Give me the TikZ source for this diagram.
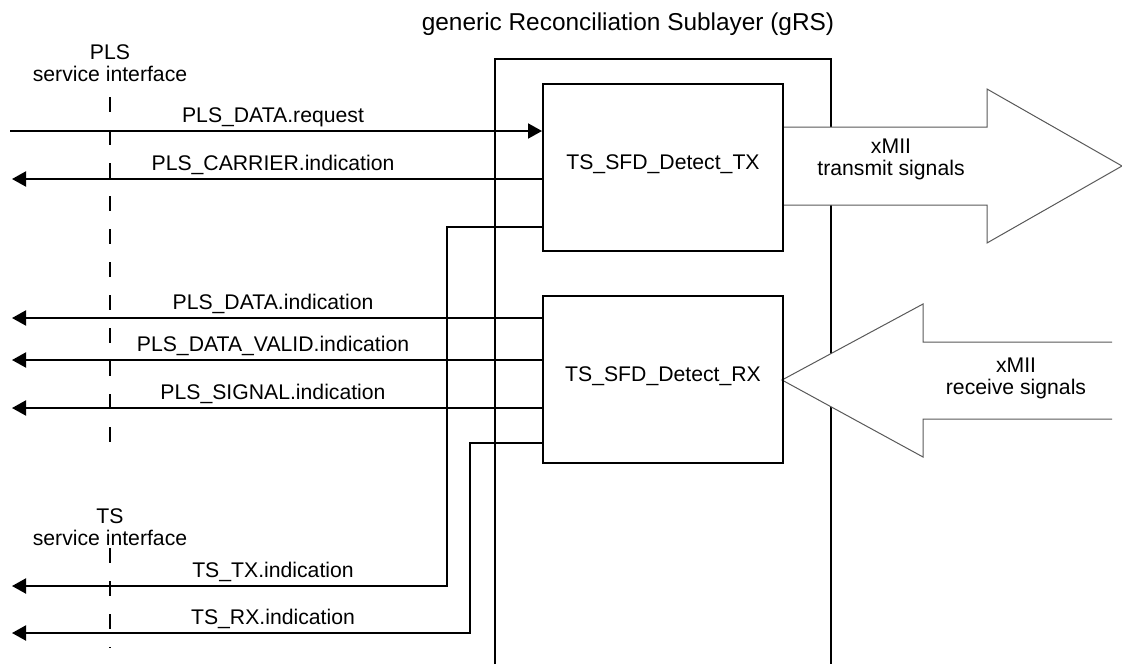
\documentclass[tikz,border=0pt]{standalone}
\usepackage{fontspec}
\setmainfont{Liberation Sans}
\usetikzlibrary{arrows.meta}
\newcommand{\lblfont}{\fontsize{10.6pt}{11pt}\selectfont}

\begin{document}
\begin{tikzpicture}[
    x=0.5pt, y=-0.5pt,
    fblock/.style={draw, line width=1pt, minimum width=120pt,
                   minimum height=83.5pt, text depth=5pt, font=\lblfont},
    sig/.style={-{Triangle[length=7pt, width=7.5pt]}, line width=1pt},
    siglbl/.style={anchor=base, inner sep=0pt, font=\lblfont},
    iface/.style={line width=1pt, dash pattern=on 7.5pt off 9pt},
    bigarr/.style={fill=white, draw=black!65, line width=0.5pt},
]
\useasboundingbox (0,0) rectangle (1122,664);

% gRS frame
\node[anchor=base, font=\fontsize{12.2pt}{14pt}\selectfont] (grs) at (628,30)
    {generic Reconciliation Sublayer (gRS)};
\draw[line width=1pt] (495,664) |- (831,59) -- (831,664);

% xMII signal arrows
\path[bigarr] (783,127) -- (987,127) -- (987,89) -- (1122,166)
    -- (987,243) -- (987,205) -- (783,205);
\path[bigarr] (1112,342) -- (923,342) -- (923,304) -- (782,380)
    -- (923,457) -- (923,419) -- (1112,419);
\node[align=center, font=\lblfont] (txsig) at (891,159) {xMII\\transmit signals};
\node[align=center, font=\lblfont] (rxsig) at (1016,378) {xMII\\receive signals};

% detect blocks
\node[fblock] (tx) at (663,167.5) {TS\_SFD\_Detect\_TX};
\node[fblock] (rx) at (663,379.5) {TS\_SFD\_Detect\_RX};

% service interfaces
\node[align=center, font=\lblfont] (plsif) at (110,63) {PLS\\service interface};
\node[align=center, font=\lblfont] (tsif) at (110,527) {TS\\service interface};
\draw[iface] (110,97) -- (110,455);
\draw[iface] (110,548) -- (110,648);

% PLS primitives
\coordinate (req) at (10,131);
\coordinate (car) at (12,179);
\coordinate (dind) at (12,318);
\coordinate (dval) at (12,360);
\coordinate (sind) at (12,408);
\draw[sig] (req) -- (req -| tx.west);
\draw[sig] (car -| tx.west) -- (car);
\draw[sig] (dind -| rx.west) -- (dind);
\draw[sig] (dval -| rx.west) -- (dval);
\draw[sig] (sind -| rx.west) -- (sind);
\node[siglbl] (reqlbl) at (273,122.5) {PLS\_DATA.request};
\node[siglbl] (carlbl) at (273,170.5) {PLS\_CARRIER.indication};
\node[siglbl] (dindlbl) at (273,309.5) {PLS\_DATA.indication};
\node[siglbl] (dvallbl) at (273,351.5) {PLS\_DATA\_VALID.indication};
\node[siglbl] (sindlbl) at (273,399.5) {PLS\_SIGNAL.indication};

% TS primitives
\coordinate (txret) at (447,227);
\coordinate (rxret) at (470,443);
\coordinate (tstx) at (12,586);
\coordinate (tsrx) at (12,633);
\draw[sig] (txret -| tx.west) -- (txret) |- (tstx);
\draw[sig] (rxret -| rx.west) -- (rxret) |- (tsrx);
\node[siglbl] (tstxlbl) at (273,577.5) {TS\_TX.indication};
\node[siglbl] (tsrxlbl) at (273,624.5) {TS\_RX.indication};

\end{tikzpicture}
\end{document}
